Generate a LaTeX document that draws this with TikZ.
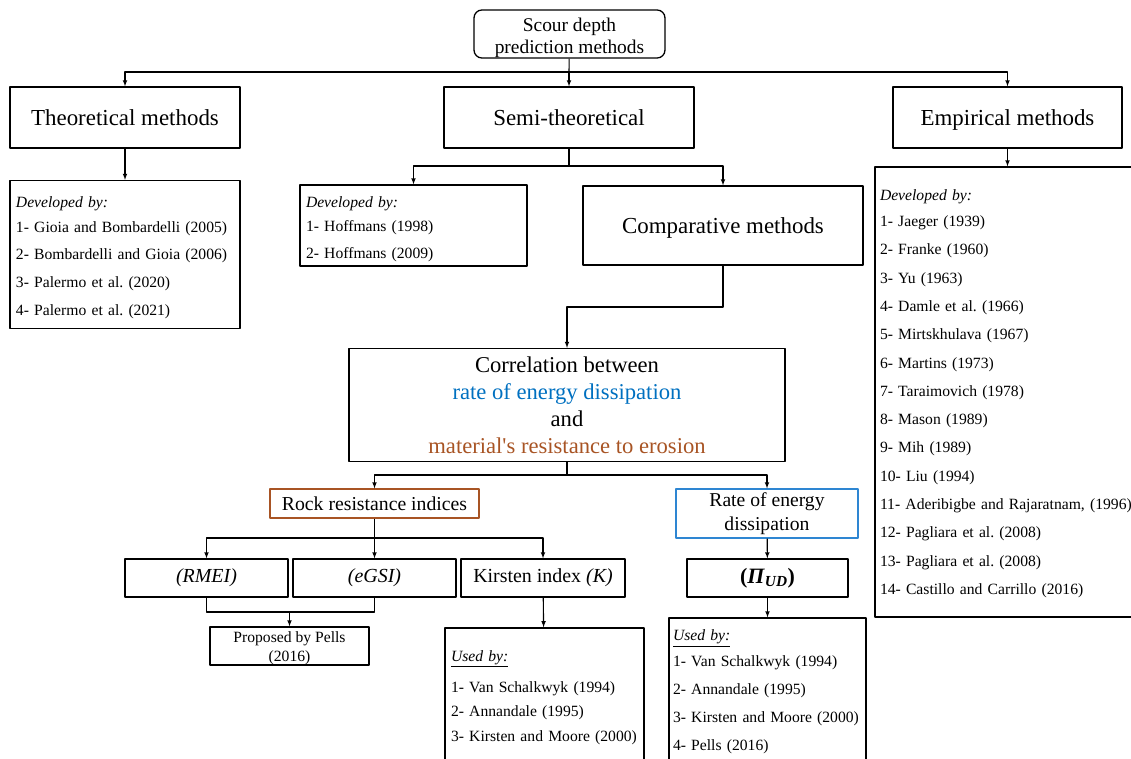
\documentclass[tikz,border=0pt]{standalone}
\usepackage{fontspec}
\setmainfont{Liberation Serif}
\definecolor{dissipblue}{RGB}{0,112,192}
\definecolor{dissipframe}{RGB}{46,134,210}
\definecolor{erosionbrown}{RGB}{168,84,36}
\frenchspacing
\begin{document}
\begin{tikzpicture}[>=latex,line join=bevel,x=1bp,y=-1bp,
  box/.style={draw,line width=1.3bp,inner sep=0pt,align=center},
  headbox/.style={box,minimum height=61bp,text height=20bp,text depth=4.8bp,font=\fontsize{23}{27}\selectfont},
  listbox/.style={draw,line width=1.3bp,inner ysep=0pt,inner xsep=6bp,align=left},
  link/.style={line width=1.1bp}]
%%
\useasboundingbox (0,0) rectangle (1131,759);
\clip (0,0) rectangle (1131,759);
%
\node (node_scour) at (569.5,34) [box,rounded corners=8bp,minimum width=191bp,minimum height=48bp,font=\fontsize{19.5}{22}\selectfont] {\rule{0pt}{22bp}Scour depth\\prediction methods};
\node (node_theo) at (125,117.5) [headbox,minimum width=230bp] {Theoretical methods};
\node (node_semi) at (569,117.5) [headbox,minimum width=250bp] {Semi-theoretical};
\node (node_emp) at (1007.5,117.5) [headbox,minimum width=229bp] {Empirical methods};
%
\node (node_theolist) at (125,254.5) [listbox,text width=218bp,minimum height=148bp,font=\fontsize{15.7}{27.7}\selectfont] {\rule{0pt}{17bp}\textit{Developed by:}\\[-3bp] 1- Gioia and Bombardelli (2005)\\ 2- Bombardelli and Gioia (2006)\\ 3- Palermo et al. (2020)\\ 4- Palermo et al. (2021)};
\node (node_hoff) at (413.5,225.5) [listbox,text width=215bp,minimum height=81bp,font=\fontsize{15.7}{27}\selectfont] {\rule{0pt}{18bp}\textit{Developed by:}\\[-3bp] 1- Hoffmans (1998)\\ 2- Hoffmans (2009)};
\node (node_comp) at (723,225.5) [headbox,minimum width=280bp,minimum height=79bp] {Comparative methods};
\node (node_emplist) at (1007.5,392) [listbox,inner xsep=5bp,text width=255bp,minimum height=450bp,font=\fontsize{15.7}{28.4}\selectfont] {\rule{0pt}{14bp}\textit{Developed by:}\\[-2bp] 1- Jaeger (1939)\\ 2- Franke (1960)\\ 3- Yu (1963)\\ 4- Damle et al. (1966)\\ 5- Mirtskhulava (1967)\\ 6- Martins (1973)\\ 7- Taraimovich (1978)\\ 8- Mason (1989)\\ 9- Mih (1989)\\ 10- Liu (1994)\\ 11- Aderibigbe and Rajaratnam, (1996)\\ 12- Pagliara et al. (2008)\\ 13- Pagliara et al. (2008)\\ 14- Castillo and Carrillo (2016)};
%
\node (node_corr) at (567,405) [box,minimum width=436bp,minimum height=113bp,font=\fontsize{22.7}{27}\selectfont] {Correlation between\\\textcolor{dissipblue}{rate of energy dissipation}\\and\\\textcolor{erosionbrown}{material\textquotesingle s resistance to erosion}};
\node (node_rock) at (374.5,503.5) [box,draw=erosionbrown,minimum width=209bp,minimum height=29bp,font=\fontsize{19.8}{24}\selectfont] {Rock resistance indices};
\node (node_rate) at (767,513.5) [box,draw=dissipframe,minimum width=182bp,minimum height=49bp,font=\fontsize{19.7}{24}\selectfont] {Rate of energy\\dissipation};
%
\node (node_rmei) at (206.5,578) [box,minimum width=163bp,minimum height=38bp,font=\fontsize{20}{24}\selectfont] {\textit{(RMEI)}};
\node (node_egsi) at (374.5,578) [box,minimum width=163bp,minimum height=38bp,font=\fontsize{20}{24}\selectfont] {\textit{(eGSI)}};
\node (node_kirsten) at (543,578) [box,minimum width=164bp,minimum height=38bp,font=\fontsize{20}{24}\selectfont] {Kirsten index \textit{(K)}};
\node (node_pells) at (289.5,646) [box,minimum width=159bp,minimum height=38bp,font=\fontsize{15.7}{19}\selectfont] {\rule{0pt}{15bp}Proposed by Pells\\(2016)};
\node (node_kirstenlist) at (544.5,697.4) [listbox,text width=187bp,minimum height=139bp,font=\fontsize{15.7}{24.5}\selectfont] {\underline{\textit{Used by:}}\\[6.5bp] 1- Van Schalkwyk (1994)\\ 2- Annandale (1995)\\ 3- Kirsten and Moore (2000)};
\node (node_pi) at (767.5,578) [box,minimum width=161bp,minimum height=38bp,font=\fontsize{22}{26}\selectfont\bfseries] {(\textit{Π}\textsubscript{\textit{UD}})};
\node (node_pilist) at (767.5,692) [listbox,inner xsep=4bp,text width=189bp,minimum height=148bp,font=\fontsize{15.7}{28}\selectfont] {\underline{\textit{Used by:}}\\[-2bp] 1- Van Schalkwyk (1994)\\ 2- Annandale (1995)\\ 3- Kirsten and Moore (2000)\\ 4- Pells (2016)};
%
\coordinate (top_split) at (569,72);
\draw [link] (node_scour) -- (top_split);
\draw [link,->] (top_split) -| (node_theo.north);
\draw [link,->] (top_split) -| (node_emp.north);
\draw [link,->] (top_split) -- (node_semi.north);
\draw [link,->] (node_theo) -- (node_theolist);
\coordinate (semi_split) at (569,166);
\draw [link] (node_semi) -- (semi_split);
\draw [link,->] (semi_split) -| (node_hoff.north);
\draw [link,->] (semi_split) -| (node_comp.north);
\draw [link,->] (node_emp.south) -- (node_emp.south |- node_emplist.north);
\coordinate (comp_bend) at (567,307);
\draw [link,->] (node_comp.south) |- (comp_bend) -- (node_corr.north);
\coordinate (corr_split) at (567,475);
\draw [link] (node_corr) -- (corr_split);
\draw [link,->] (corr_split) -| (node_rock.north);
\draw [link,->] (corr_split) -| (node_rate.north);
\coordinate (rock_split) at (374.5,538);
\draw [link] (node_rock) -- (rock_split);
\draw [link,->] (rock_split) -| (node_rmei.north);
\draw [link,->] (rock_split) -- (node_egsi.north);
\draw [link,->] (rock_split) -| (node_kirsten.north);
\coordinate (pells_join) at (289.5,612);
\draw [link] (node_rmei.south) |- (pells_join) -| (node_egsi.south);
\draw [link,->] (pells_join) -- (node_pells);
\draw [link,->] (node_kirsten) -- (node_kirstenlist);
\draw [link,->] (node_rate) -- (node_pi);
\draw [link,->] (node_pi) -- (node_pilist);
%
\end{tikzpicture}
\end{document}
